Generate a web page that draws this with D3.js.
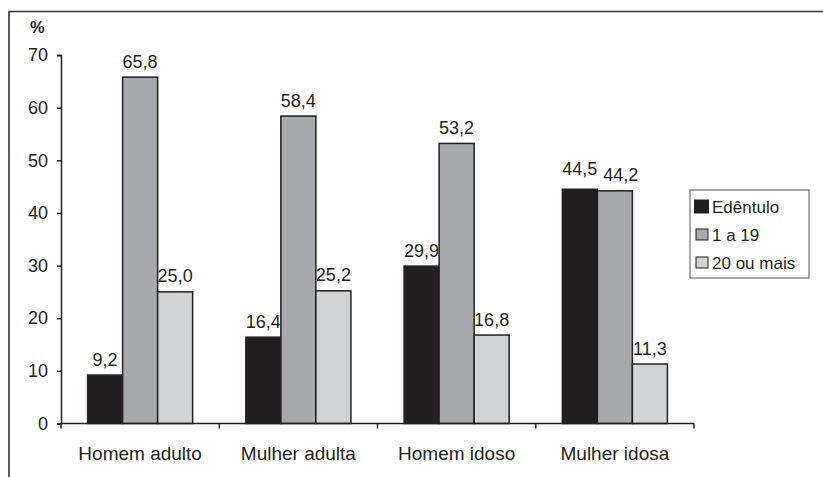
<!DOCTYPE html>
<html>
<head>
<meta charset="utf-8">
<script src="https://cdn.jsdelivr.net/npm/d3@7"></script>
<style>
  html, body { margin: 0; padding: 0; background: #fff; }
  svg { display: block; font-family: "Liberation Sans", Arial, sans-serif; }
</style>
</head>
<body>
<svg id="chart" width="823" height="477"></svg>
<script>
// Grupos populacionais e séries (número de dentes)
const categories = ["Homem adulto", "Mulher adulta", "Homem idoso", "Mulher idosa"];
const seriesNames = ["Edêntulo", "1 a 19", "20 ou mais"];
const edentulo = [9.2, 16.4, 29.9, 44.5];
const umA19 = [65.8, 58.4, 53.2, 44.2];
const vinteOuMais = [25.0, 25.2, 16.8, 11.3];
const yTicks = [0, 10, 20, 30, 40, 50, 60, 70];
const seriesColors = ["#231f20", "#a7a9ac", "#d1d3d4"];

const series = [edentulo, umA19, vinteOuMais];
const fmt = v => v.toFixed(1).replace(".", ",");
const ink = "#231f20";

const svg = d3.select("#chart");

// moldura (borda superior e esquerda)
svg.append("path")
  .attr("d", "M9,477 V11.5 H823")
  .attr("fill", "none").attr("stroke", "#333").attr("stroke-width", 1.6);

const x0 = d3.scaleBand().domain(categories).range([61, 694]).paddingInner(0).paddingOuter(0);
const x1 = d3.scaleBand().domain(seriesNames).range([0, x0.bandwidth()]).paddingOuter(0.76).paddingInner(0);
const y = d3.scaleLinear().domain([0, 70]).range([423.5, 55]);

// barras
const groups = svg.append("g").selectAll("g")
  .data(categories).join("g")
  .attr("transform", d => `translate(${x0(d)},0)`);

groups.selectAll("rect")
  .data((c, i) => seriesNames.map((s, j) => ({ s, v: series[j][i], j })))
  .join("rect")
  .attr("x", d => x1(d.s))
  .attr("y", d => y(d.v))
  .attr("width", x1.bandwidth())
  .attr("height", d => y(0) - y(d.v))
  .attr("fill", d => seriesColors[d.j])
  .attr("stroke", ink)
  .attr("stroke-width", 1.5);

// rótulos de valor; quando dois vizinhos quase se tocam, afasta-os
groups.each(function (c, i) {
  const labels = seriesNames.map((s, j) => ({
    s, v: series[j][i],
    x: x1(s) + x1.bandwidth() / 2,
    y: y(series[j][i]) - 9.5
  }));
  for (let j = 0; j < labels.length - 1; j++) {
    if (Math.abs(labels[j].y - labels[j + 1].y) < 14) {
      labels[j].y -= 5;
      labels[j + 1].x += 6;
    }
  }
  d3.select(this).selectAll("text.val")
    .data(labels).join("text")
    .attr("class", "val")
    .attr("x", d => d.x)
    .attr("y", d => d.y)
    .attr("text-anchor", "middle")
    .attr("font-size", 18)
    .attr("fill", ink)
    .text(d => fmt(d.v));
});

// eixo Y
const yAxis = svg.append("g").attr("transform", "translate(61,0)")
  .call(d3.axisLeft(y).tickValues(yTicks).tickSize(4).tickPadding(9).tickFormat(d3.format("d")));
yAxis.select(".domain").attr("stroke", ink).attr("stroke-width", 1.5);
yAxis.selectAll(".tick line").attr("stroke", ink).attr("stroke-width", 1.5);
yAxis.selectAll(".tick text").attr("font-size", 18).attr("fill", ink)
  .attr("font-family", "Liberation Sans, Arial, sans-serif");

// eixo X
svg.append("line")
  .attr("x1", 61).attr("x2", 694).attr("y1", y(0)).attr("y2", y(0))
  .attr("stroke", ink).attr("stroke-width", 1.5);
const boundaries = categories.map(c => x0(c)).concat([x0.range()[1]]);
svg.append("g").selectAll("line").data(boundaries).join("line")
  .attr("x1", d => d).attr("x2", d => d)
  .attr("y1", y(0)).attr("y2", y(0) + 5)
  .attr("stroke", ink).attr("stroke-width", 1.5);
svg.append("g").selectAll("text").data(categories).join("text")
  .attr("x", d => x0(d) + x0.bandwidth() / 2)
  .attr("y", 460)
  .attr("text-anchor", "middle")
  .attr("font-size", 19)
  .attr("fill", ink)
  .text(d => d);

// unidade
svg.append("text")
  .attr("x", 30).attr("y", 33)
  .attr("font-size", 16.5).attr("font-weight", "bold")
  .attr("fill", ink)
  .text("%");

// legenda
const legend = svg.append("g");
legend.append("rect")
  .attr("x", 690).attr("y", 190).attr("width", 119).attr("height", 88)
  .attr("fill", "#fff").attr("stroke", "#555").attr("stroke-width", 1);
const items = legend.selectAll("g.item").data(seriesNames).join("g")
  .attr("class", "item")
  .attr("transform", (d, i) => `translate(694,${199.5 + i * 28})`);
items.append("rect")
  .attr("x", (d, i) => i === 0 ? 0.5 : 2)
  .attr("y", (d, i) => i === 0 ? 0.5 : 1.5)
  .attr("width", (d, i) => i === 0 ? 14 : 12)
  .attr("height", (d, i) => i === 0 ? 13 : 11)
  .attr("fill", (d, i) => seriesColors[i])
  .attr("stroke", ink).attr("stroke-width", 1);
items.append("text")
  .attr("x", 18).attr("y", 13)
  .attr("font-size", 17)
  .attr("fill", ink)
  .text(d => d);
</script>
</body>
</html>
